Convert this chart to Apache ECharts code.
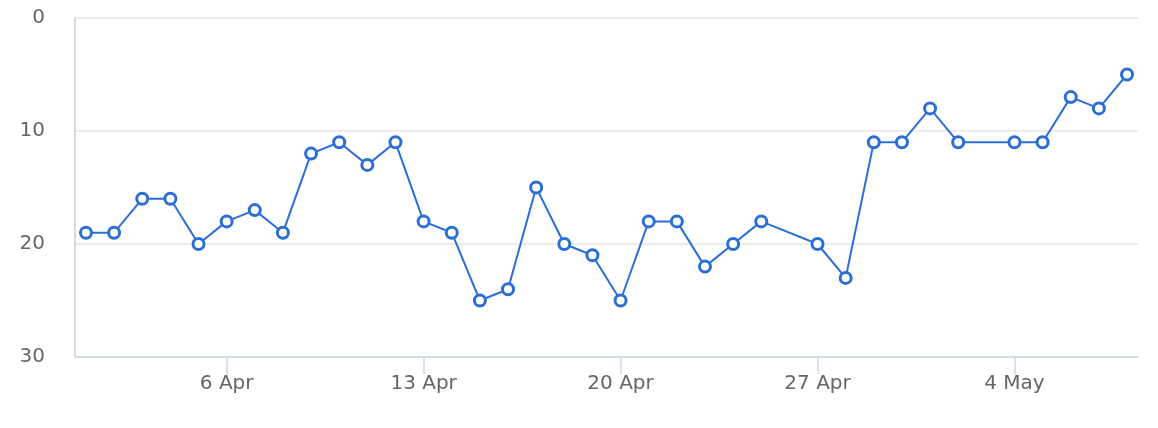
<!DOCTYPE html>
<html>
<head>
<meta charset="utf-8">
<script src="https://cdn.jsdelivr.net/npm/echarts@6/dist/echarts.min.js"></script>
<style>html,body{margin:0;padding:0;background:#fff;}#c{width:1158px;height:428px;}</style>
</head>
<body>
<div id="c"></div>
<script>
const dates = ['2024-04-01','2024-04-02','2024-04-03','2024-04-04','2024-04-05','2024-04-06','2024-04-07','2024-04-08','2024-04-09','2024-04-10','2024-04-11','2024-04-12','2024-04-13','2024-04-14','2024-04-15','2024-04-16','2024-04-17','2024-04-18','2024-04-19','2024-04-20','2024-04-21','2024-04-22','2024-04-23','2024-04-24','2024-04-25','2024-04-27','2024-04-28','2024-04-29','2024-04-30','2024-05-01','2024-05-02','2024-05-04','2024-05-05','2024-05-06','2024-05-07','2024-05-08'];
const values = [19,19,16,16,20,18,17,19,12,11,13,11,18,19,25,24,15,20,21,25,18,18,22,20,18,20,23,11,11,8,11,11,11,7,8,5];
const tickDates = ['2024-04-06','2024-04-13','2024-04-20','2024-04-27','2024-05-04'];
const yTicks = [0,10,20,30];
const months = ['Jan','Feb','Mar','Apr','May','Jun','Jul','Aug','Sep','Oct','Nov','Dec'];

const ts = d => { const p = d.split('-').map(Number); return Date.UTC(p[0], p[1]-1, p[2]); };
const DAY = 86400000;
const seriesData = dates.map((d,i) => [ts(d), values[i]]);
const pad = 0.39 * DAY;
const fmt = v => { const dt = new Date(v); return dt.getUTCDate() + ' ' + months[dt.getUTCMonth()]; };
const font = 'DejaVu Sans';

const chart = echarts.init(document.getElementById('c'), null, {renderer:'canvas'});
chart.setOption({
  animation: false,
  grid: {left: 75, right: 20, top: 18, bottom: 71, containLabel: false},
  xAxis: {
    type: 'value',
    position: 'bottom',
    min: ts(dates[0]) - pad,
    max: ts(dates[dates.length-1]) + pad,
    axisLine: {show: true, onZero: false, lineStyle: {color: '#ccd6eb', width: 1.5}},
    axisTick: {show: true, length: 17, lineStyle: {color: '#ccd6eb', width: 1.5}, customValues: tickDates.map(ts)},
    axisLabel: {color: '#666', fontSize: 20, fontFamily: font, margin: 17, customValues: tickDates.map(ts), formatter: fmt},
    splitLine: {show: false}
  },
  yAxis: {
    type: 'value',
    inverse: true,
    min: yTicks[0],
    max: yTicks[yTicks.length-1],
    interval: 10,
    axisLine: {show: true, onZero: false, lineStyle: {color: '#cccccc', width: 1.5}},
    axisTick: {show: false},
    axisLabel: {color: '#666', fontSize: 20, fontFamily: font, margin: 30},
    splitLine: {show: true, lineStyle: {color: '#e6e6e6', width: 1.5}}
  },
  series: [{
    type: 'line',
    data: seriesData,
    symbol: 'circle',
    symbolSize: 11,
    showSymbol: true,
    lineStyle: {color: '#2b6fd6', width: 2},
    itemStyle: {color: '#ffffff', borderColor: '#2b6fd6', borderWidth: 3}
  }]
});
</script>
</body>
</html>
